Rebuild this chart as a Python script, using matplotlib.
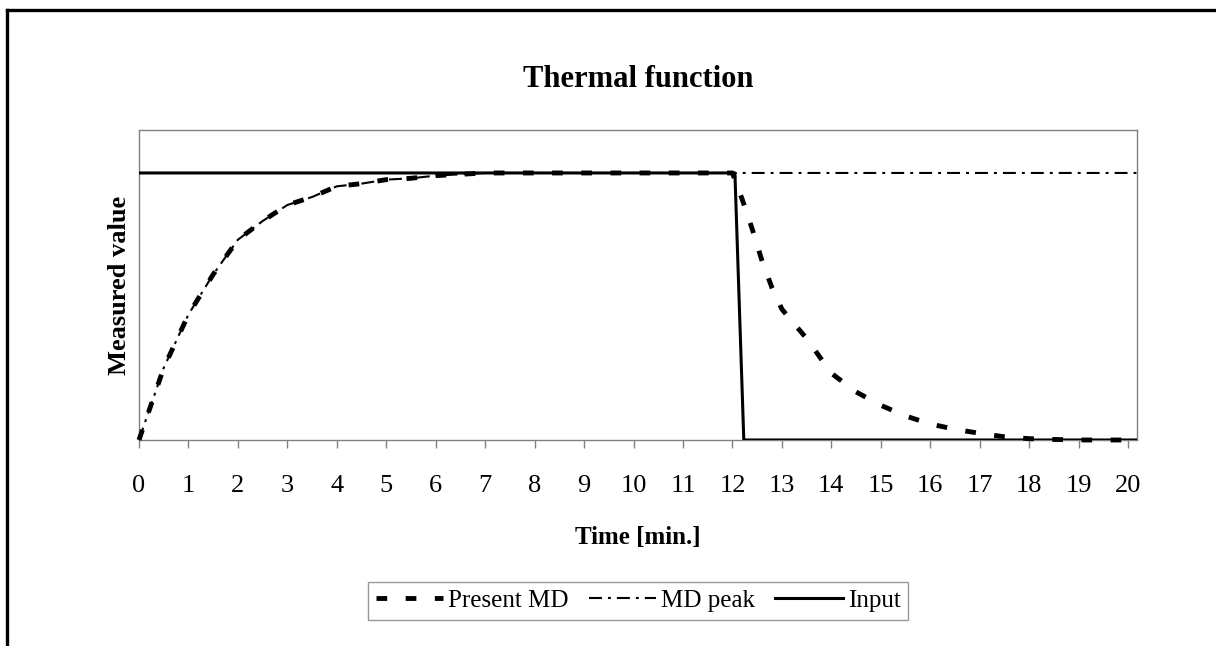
import matplotlib
matplotlib.use("Agg")
import matplotlib.pyplot as plt
from matplotlib.lines import Line2D

plt.rcParams['font.family'] = ['Liberation Serif', 'DejaVu Serif']

# data
t_present = [0, 0.5, 1, 1.5, 2, 2.5, 3, 3.5, 4, 4.5, 5, 5.5, 6, 6.5, 7, 8, 9, 10, 11, 12,
             12.2, 12.4, 12.6, 12.8, 13, 13.5, 14, 14.5, 15, 15.5, 16, 16.5, 17, 17.5, 18,
             18.5, 19, 19.5, 20, 20.2]
present_md = [0, 0.27, 0.47, 0.62, 0.75, 0.82, 0.88, 0.91, 0.95, 0.96, 0.975, 0.98, 0.99, 0.995, 1,
              1, 1, 1, 1, 1, 0.9, 0.79, 0.67, 0.57, 0.49, 0.38, 0.25, 0.18, 0.13, 0.09, 0.06,
              0.04, 0.025, 0.012, 0.005, 0.002, 0, 0, 0, 0]

t_peak = [0, 0.5, 1, 1.5, 2, 2.5, 3, 3.5, 4, 4.5, 5, 5.5, 6, 6.5, 7, 20.2]
md_peak = [0, 0.27, 0.47, 0.62, 0.75, 0.82, 0.88, 0.91, 0.95, 0.96, 0.975, 0.98, 0.99, 0.995, 1, 1]

t_input = [0, 12.05, 12.23, 20.2]
input_val = [1, 1, 0, 0]

xticks = list(range(0, 21))

fig = plt.figure(figsize=(12.16, 6.46), dpi=100)
ax = fig.add_axes([0.1143, 0.3189, 0.8207, 0.4799])

ax.plot(t_present, present_md, color='black', lw=3.5, linestyle=(0, (2.2, 3.8)),
        label='Present MD', clip_on=False, zorder=3)
ax.plot(t_peak, md_peak, color='black', lw=1.5, linestyle=(0, (6.2, 2.9, 1.4, 2.9)),
        label='MD peak', zorder=2)
ax.plot(t_input, input_val, color='black', lw=2.2, label='Input', zorder=4)

ax.set_xlim(0, 20.18)
ax.set_ylim(0, 1.161)
ax.set_xticks(xticks)
ax.set_xticklabels([str(v) for v in xticks], fontsize=19)
ax.set_yticks([])
ax.tick_params(axis='x', direction='out', length=6, width=1, color='#808080', pad=19)
for s in ax.spines.values():
    s.set_color('#808080')
    s.set_linewidth(1)

ax.set_title('Thermal function', fontsize=22, fontweight='bold', pad=31)
ax.set_xlabel('Time [min.]', fontsize=18, fontweight='bold', labelpad=21)
ax.set_ylabel('Measured value', fontsize=19, fontweight='bold', labelpad=5.5)

leg = fig.legend(loc='center', bbox_to_anchor=(0.5247, 0.0697), ncol=3, fontsize=18,
                 frameon=True, fancybox=False, edgecolor='#808080', handlelength=2.7,
                 handletextpad=0.2, columnspacing=0.8, borderpad=0.3)
leg.get_frame().set_linewidth(1)

# outer frame (top and left edges visible)
fig.add_artist(Line2D([7 / 1216, 1], [1 - 10 / 646, 1 - 10 / 646], color='black', lw=2.4,
                      transform=fig.transFigure))
fig.add_artist(Line2D([7 / 1216, 7 / 1216], [0, 1 - 10 / 646], color='black', lw=2.4,
                      transform=fig.transFigure))

fig.savefig('out.png', dpi=100)
